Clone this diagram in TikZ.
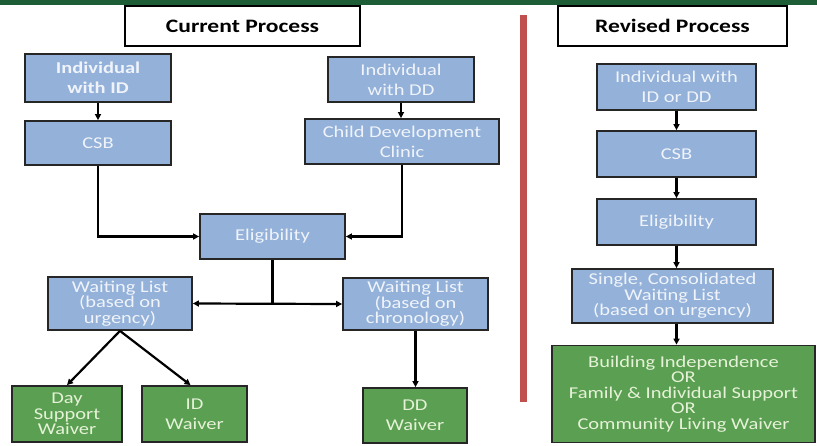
\documentclass[tikz,border=0pt]{standalone}
\usepackage{fontspec}
\setmainfont{Carlito}[FakeStretch=1.24]
\usepackage{xcolor}
\usepackage{tikz}
\usetikzlibrary{arrows.meta, positioning, calc}

\definecolor{boxblue}{HTML}{93B1D9}
\definecolor{boxgreen}{HTML}{5B9F52}
\definecolor{bargreen}{HTML}{1D5E36}
\definecolor{divred}{HTML}{C0504D}
\definecolor{bluetext}{HTML}{F0F4FA}
\definecolor{greentext}{HTML}{E6F2D8}

\newcommand{\tightlines}{\lineskiplimit=-100pt\relax\lineskip=0pt\relax}

\begin{document}
\begin{tikzpicture}[
    x=1pt, y=-1pt,
    >={Triangle[length=6pt,width=6pt]},
    titlebox/.style={
        rectangle,
        draw=black,
        line width=1.8pt,
        fill=white,
        align=center,
        font=\fontsize{19}{22}\selectfont\bfseries
    },
    flowbox/.style={
        rectangle,
        draw=black!85,
        line width=1.8pt,
        fill=boxblue,
        text=bluetext,
        align=center,
        inner sep=1pt,
        font=\fontsize{16.5}{20}\selectfont
    },
    waiverbox/.style={
        flowbox,
        fill=boxgreen,
        text=greentext
    },
    tight/.style={
        font=\fontsize{16.5}{15.5}\selectfont\tightlines
    },
    link/.style={line width=2.2pt, black}
]
    \useasboundingbox (0,0) rectangle (817,445);

    % Top bar and divider
    \fill[bargreen] (0,0) rectangle (817,5);
    \draw[divred, line width=7pt] (523.5,15) -- (523.5,402);

    % Headings
    \node[titlebox, minimum width=235, minimum height=40] (curtitle) at (242.5,26) {Current Process};
    \node[titlebox, minimum width=229, minimum height=40] (revtitle) at (672.5,26) {Revised Process};

    % Current process (left)
    \node[flowbox, minimum width=146, minimum height=48, font=\fontsize{16.5}{20}\selectfont\bfseries] (indid) at (98,78) {Individual\\with ID};
    \node[flowbox, minimum width=146, minimum height=44] (csbl) at (98,143) {CSB};
    \node[flowbox, minimum width=146, minimum height=45] (inddd) at (401,79.5) {Individual\\with DD};
    \node[flowbox, minimum width=194, minimum height=45] (cdc) at (402,141.5) {Child Development\\Clinic};
    \node[flowbox, minimum width=145, minimum height=45] (eligl) at (272.5,236.5) {Eligibility};
    \node[flowbox, tight, minimum width=144, minimum height=53] (wlurg) at (120,303.5) {Waiting List\\(based on\\urgency)};
    \node[flowbox, tight, minimum width=145, minimum height=52] (wlchr) at (415.5,304) {Waiting List\\(based on\\chronology)};
    \node[waiverbox, tight, minimum width=110, minimum height=56] (dsw) at (67,414) {Day\\Support\\Waiver};
    \node[waiverbox, minimum width=105, minimum height=56] (idw) at (194.5,414) {ID\\Waiver};
    \node[waiverbox, minimum width=104, minimum height=55] (ddw) at (415,415.5) {DD\\Waiver};

    % Connectors (left)
    \draw[link, ->] (indid) -- (csbl);
    \draw[link, ->] (inddd.south) -- (inddd.south |- cdc.north);
    \draw[link, ->] (csbl.south) |- (eligl.west);
    \draw[link, ->] (cdc.south) |- (eligl.east);
    \draw[link] (eligl.south) -- (eligl.south |- wlurg.east);
    \draw[link, <->] (wlurg.east) -- (wlchr.west);
    \draw[link, ->] (wlurg.south) -- (dsw.north);
    \draw[link, ->] (wlurg.south) -- ([xshift=-4]idw.north);
    \draw[link, ->] (wlchr.south) -- (wlchr.south |- ddw.north);

    % Revised process (right)
    \node[flowbox, minimum width=159, minimum height=46] (indr) at (676.5,87) {Individual with\\ID or DD};
    \node[flowbox, minimum width=159, minimum height=46] (csbr) at (676.5,154) {CSB};
    \node[flowbox, minimum width=159, minimum height=46] (eligr) at (676.5,222) {Eligibility};
    \node[flowbox, tight, minimum width=201, minimum height=54] (wlsingle) at (672.5,296) {Single, Consolidated\\Waiting List\\(based on urgency)};
    \node[waiverbox, tight, minimum width=263, minimum height=97] (waivers) at (683.5,394) {Building Independence\\OR\\Family \& Individual Support\\OR\\Community Living Waiver};

    % Connectors (right)
    \draw[link, ->] (indr) -- (csbr);
    \draw[link, ->] (csbr) -- (eligr);
    \draw[link, ->] (eligr.south) -- (eligr.south |- wlsingle.north);
    \draw[link, ->] (eligr.south |- wlsingle.south) -- (eligr.south |- waivers.north);

\end{tikzpicture}
\end{document}
